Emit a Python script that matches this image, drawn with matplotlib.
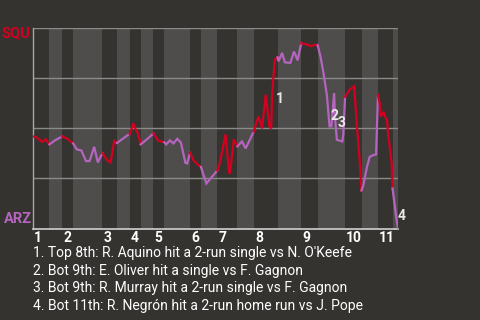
import matplotlib
matplotlib.use("Agg")
import matplotlib.pyplot as plt

plt.rcParams['font.family'] = ['Roboto', 'DejaVu Sans']

# win probability for SQU, by event number in the game
event = [0, 2, 5, 7, 9, 12, 16, 18.5, 22, 24, 26.5, 29, 31, 33.5, 35.5, 38,
         41, 42.5, 44.5, 46, 52, 53, 55, 56, 57.5, 59, 63, 66, 68.5, 72,
         73, 75, 77, 79, 81, 83.5, 84.5, 86, 88, 90.5, 92, 95, 101,
         102.5, 105.5, 107.5, 108, 110, 112, 114.5, 116.5, 121,
         123.5, 125.5, 127.5, 128.5, 129.5, 130.5, 131, 132.5, 134,
         134.5, 136.5, 138, 141, 143, 145, 146, 147, 150, 152.5, 154.5, 156,
         157.5, 159, 161, 162, 162.5, 163.5, 165, 165.5, 166.5, 169.5, 170, 171,
         173.5, 176, 177.5, 179, 180, 181, 183, 184.5, 186.5, 188, 189,
         190, 190.5, 192, 193, 194, 194.5, 195.5, 196.5, 197, 199, 200]
wp_squ = [.46, .455, .433, .445, .42, .44, .46, .45, .425, .395, .39, .337, .337, .408, .33, .376,
          .338, .33, .438, .427, .467, .472, .525, .5, .475, .42, .45, .475, .44, .43,
          .42, .44, .425, .448, .43, .328, .325, .378, .34, .317, .308, .225, .29,
          .333, .47, .275, .28, .445, .41, .435, .40, .485,
          .56, .50, .668, .593, .51, .50, .668, .843, .855,
          .835, .877, .83, .827, .884, .84, .885, .925, .92, .91, .918, .915,
          .86, .785, .668, .56, .51, .51, .676, .55, .443, .435, .468, .658,
          .693, .71, .508, .34, .19, .217, .308, .358, .367, .37, .667,
          .625, .558, .583, .558, .54, .475, .408, .325, .2, .058, 0]

# first event of each half inning (top 1st, bot 1st, top 2nd, ...), plus game end
half_starts = [0, 9, 16, 22, 38, 46, 53, 59, 66, 72, 86, 92, 101, 112, 121, 134,
               147, 156, 171, 180, 189, 197, 200]
inning_labels = ['1', '2', '3', '4', '5', '6', '7', '8', '9', '10', '11']

away, home = 'SQU', 'ARZ'
away_color = '#d4001f'
home_color = '#b565bf'

plays = [
    "1. Top 8th: R. Aquino hit a 2-run single vs N. O'Keefe",
    "2. Bot 9th: E. Oliver hit a single vs F. Gagnon",
    "3. Bot 9th: R. Murray hit a 2-run single vs F. Gagnon",
    "4. Bot 11th: R. Negrón hit a 2-run home run vs J. Pope",
]
marker_labels = ['1', '2', '3', '4']
marker_event = [135, 165, 169.3, 202.2]
marker_wp = [.647, .564, .529, .064]

BG = '#353330'
STRIPE = '#4e4d4b'

fig = plt.figure(figsize=(4.8, 3.2), dpi=100, facecolor=BG)
ax = fig.add_axes([0.0688, 0.2859, 0.7604, 0.6257])
ax.set_facecolor(BG)
ax.set_xlim(0, 200)
ax.set_ylim(0, 1)

# bottom halves get the lighter band
for i in range(1, len(half_starts) - 1, 2):
    ax.axvspan(half_starts[i], half_starts[i + 1], color=STRIPE, lw=0, zorder=0)

for y in [0.25, 0.5, 0.75, 1.0]:
    ax.axhline(y, color='#8a8a8a', lw=1, zorder=1)

# line colored by batting team
for i in range(len(half_starts) - 1):
    s, e = half_starts[i], half_starts[i + 1]
    xs = [x for x in event if s <= x <= e]
    ys = [w for x, w in zip(event, wp_squ) if s <= x <= e]
    ax.plot(xs, ys, color=away_color if i % 2 == 0 else home_color,
            lw=1.6, solid_joinstyle='miter', zorder=3)

for lab, x, y in zip(marker_labels, marker_event, marker_wp):
    ax.text(x, y, lab, color='#e8e8e8', fontsize=10, fontweight='bold',
            ha='center', va='center', zorder=4)

trans = ax.get_xaxis_transform()
for lab, x in zip(inning_labels, half_starts[0::2]):
    ax.text(x + 0.6, -0.045, lab, transform=trans, color='white', fontsize=10,
            fontweight='bold', ha='left', va='center')

for side in ['top', 'right']:
    ax.spines[side].set_visible(False)
ax.spines['left'].set_color('#a8a8a8')
ax.spines['bottom'].set_color('#d0d0d0')
ax.spines['left'].set_linewidth(1)
ax.spines['bottom'].set_linewidth(1.2)
ax.set_xticks([])
ax.set_yticks([])

fig.text(30 / 480, 1 - 33.5 / 320, away, color=away_color, fontsize=10.5,
         fontweight='bold', ha='right', va='center')
fig.text(32 / 480, 1 - 219 / 320, home, color=home_color, fontsize=10.5,
         fontweight='bold', ha='right', va='center')

for k, line in enumerate(plays):
    fig.text(33 / 480, 1 - (253 + 17.7 * k) / 320, line, color='white',
             fontsize=10, ha='left', va='center')

fig.savefig('out.png', dpi=100, facecolor=BG)
